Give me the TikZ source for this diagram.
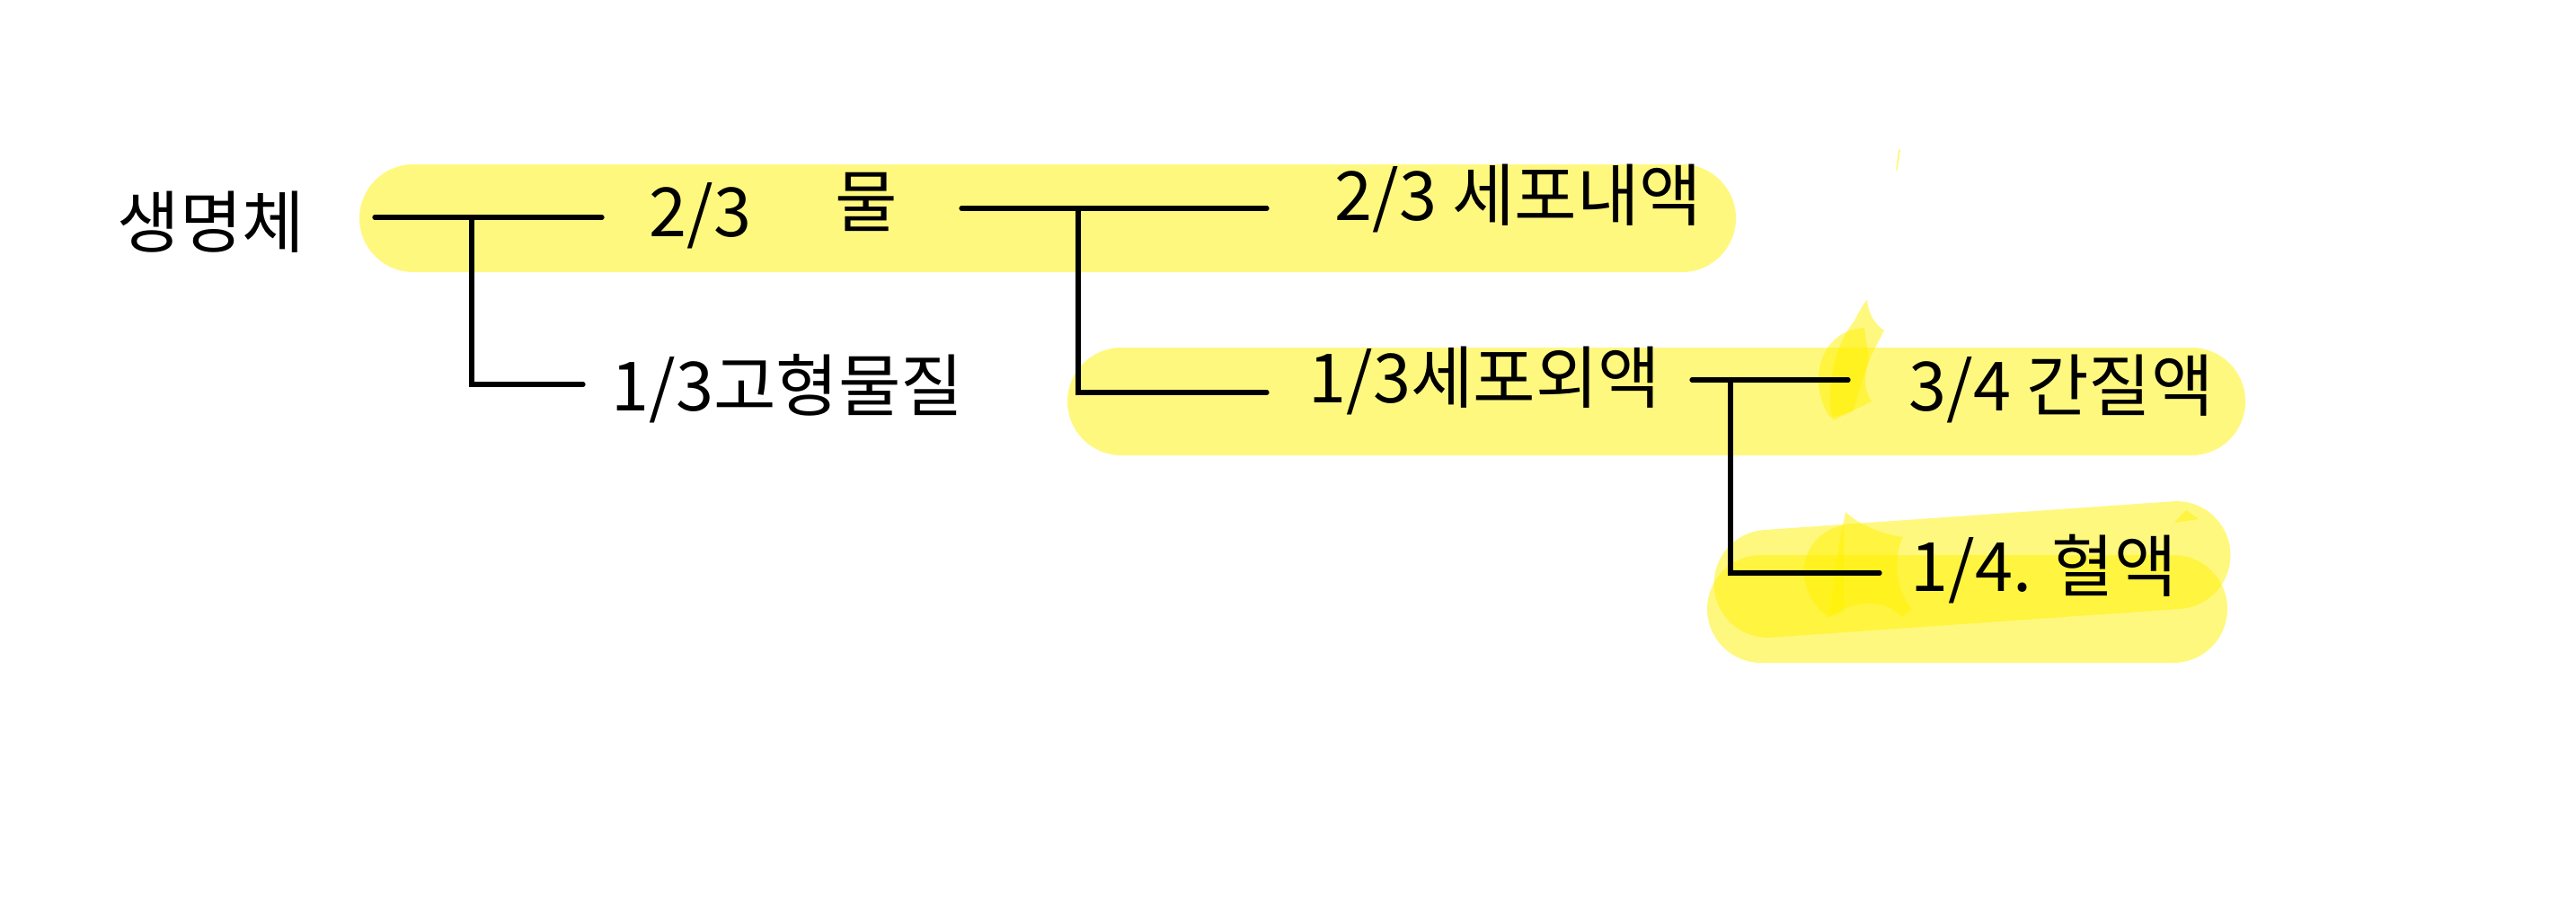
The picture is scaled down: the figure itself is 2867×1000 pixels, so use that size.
\documentclass[tikz,border=0pt]{standalone}
\usepackage{fontspec}
\newfontfamily\kr{Noto Sans CJK KR}
\begin{document}
\begin{tikzpicture}[x=0.01cm,y=-0.01cm,
  lbl/.style={inner sep=0pt,anchor=base west,font={\kr\fontsize{21.5pt}{26pt}\selectfont}},
  conn/.style={line width=1.5pt,line cap=round},
  hl/.style={fill=yellow,fill opacity=0.5},
  band/.style={hl,rounded corners=0.6cm}]
\useasboundingbox (0,0) rectangle (2867,1000);
\fill[white] (0,0) rectangle (2867,1000);
% highlight bands
\fill[band] (400,183) rectangle (1932,303);
\fill[band] (1188,387) rectangle (2499,507);
\fill[band] (1900,618) rectangle (2479,738);
\begin{scope}[shift={(2195,634)},rotate=4]
  \fill[band] (-288,-60) rectangle (288,60);
\end{scope}
% highlighter blobs
\fill[hl] (2078,334) .. controls (2080,352) and (2088,362) .. (2097,368) -- (2083,395)
  .. controls (2072,420) and (2075,435) .. (2083,447) -- (2040,468)
  .. controls (2030,430) and (2045,380) .. (2062,360) .. controls (2068,350) and (2072,340) .. cycle;
\fill[hl] (2037,465) .. controls (2012,430) and (2022,368) .. (2075,365) -- (2080,400) -- (2062,458) -- cycle;
\fill[hl] (2052,585) .. controls (2020,590) and (2005,620) .. (2008,640) .. controls (2010,665) and (2025,680) .. (2035,687) -- (2052,680) -- cycle;
\fill[hl] (2054,570) .. controls (2070,585) and (2095,595) .. (2118,598) .. controls (2106,620) and (2110,660) .. (2128,678) -- (2117,687)
  .. controls (2095,665) and (2065,668) .. (2035,687) -- (2048,600) -- cycle;
\fill[hl] (2420,582) -- (2433,568) -- (2447,578) -- cycle;
\fill[hl] (2110,190) -- (2113,166) -- (2115,167) -- (2112,188) -- cycle;
% labels
\node[lbl] (organism) at (130,275) {생명체};
\node[lbl] (water23) at (722,263) {2/3};
\node[lbl] (water) at (929,252) {물};
\node[lbl] (solid) at (680,457) {1/3고형물질};
\node[lbl] (icf) at (1485,245) {2/3 세포내액};
\node[lbl] (ecf) at (1456,448) {1/3세포외액};
\node[lbl] (isf) at (2124,457) {3/4 간질액};
\node[lbl] (blood) at (2126,658) {1/4. 혈액};
% connectors
\coordinate (a1) at (417,242); \coordinate (a2) at (670,242);
\coordinate (aj) at (525,242); \coordinate (ab) at (649,428);
\coordinate (b1) at (1070,232); \coordinate (b2) at (1410,232);
\coordinate (bj) at (1200,232); \coordinate (bb) at (1410,437);
\coordinate (c1) at (1883,423); \coordinate (c2) at (2057,423);
\coordinate (cj) at (1926,423); \coordinate (cb) at (2092,638);
\draw[conn] (a1) -- (a2);
\draw[conn] (aj) |- (ab);
\draw[conn] (b1) -- (b2);
\draw[conn] (bj) |- (bb);
\draw[conn] (c1) -- (c2);
\draw[conn] (cj) |- (cb);
\end{tikzpicture}
\end{document}
